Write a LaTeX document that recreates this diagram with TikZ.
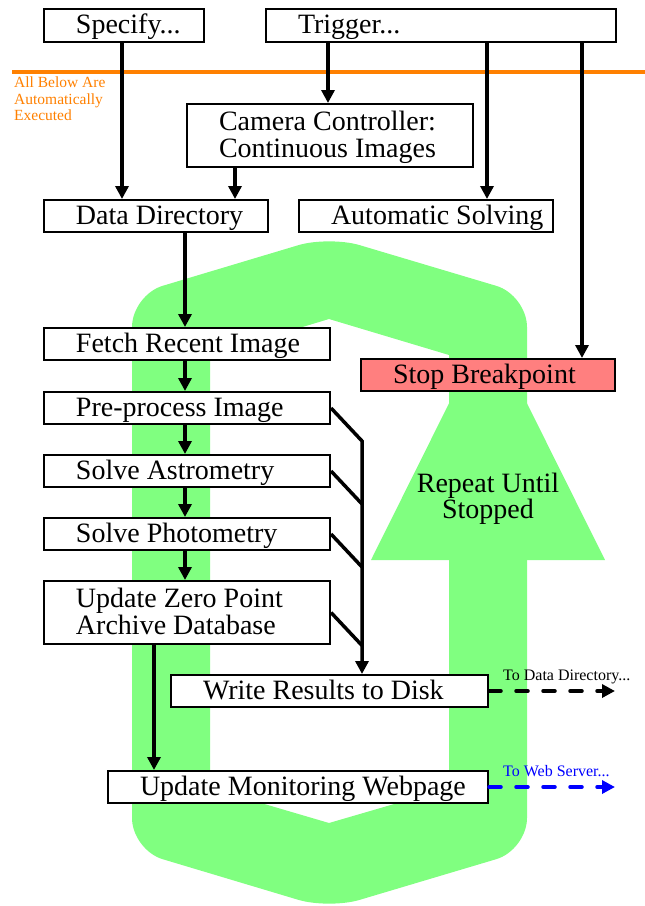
\documentclass[tikz,border=0pt]{standalone}
\usepackage{fontspec}
\setmainfont{Liberation Serif}
\usetikzlibrary{arrows.meta}
\definecolor{loopgreen}{RGB}{128,255,128}
\definecolor{stopred}{RGB}{255,127,127}
\definecolor{autoorange}{RGB}{255,128,0}
\newcommand\bx[2]{\parbox{#1pt}{\raggedright\leftskip=32pt\relax\rule{0pt}{24pt}#2\rule[-8pt]{0pt}{8pt}}}
\begin{document}
\begin{tikzpicture}[x=1pt,y=-1pt,
  box/.style={draw, line width=2pt, fill=white, anchor=north west, inner sep=0pt,
              font=\fontsize{28}{27}\selectfont},
  arr/.style={line width=3.5pt, -{Triangle[length=13pt,width=13pt]}},
  merge/.style={line width=3.5pt},
  dasharr/.style={line width=3.5pt, line cap=round, dash pattern=on 12pt off 15pt,
                  -{Triangle[length=13pt,width=13pt]}},
  small/.style={inner sep=0pt, font=\fontsize{16}{16}\selectfont}]
\clip (0,0) rectangle (645,906);
\useasboundingbox (0,0) rectangle (645,906);

% green loop
\fill[loopgreen, even odd rule]
  [rounded corners=32pt] (132,295) -- (329,236) -- (527,295) -- (527,850) -- (329,909) -- (132,850) -- cycle
  [sharp corners] (210,355) -- (329,319) -- (449,355) -- (449,788) -- (329,823) -- (210,788) -- cycle;
\fill[loopgreen] (488,325) -- (605,560) -- (371,560) -- cycle;
\node[align=center, inner sep=0pt, font=\fontsize{28}{26}\selectfont] (rep) at (488,499) {Repeat Until\\Stopped};

% orange separator
\draw[autoorange, line width=4pt] (12,72) -- (645,72);
\node[anchor=north west, align=left, inner sep=0pt, text=autoorange,
      font=\fontsize{15.5}{16.5}\selectfont] (auto note) at (14,77)
      {All Below Are\\Automatically\\Executed};

% boxes
\node[box, minimum height=33] (spec) at (43,8) {\bx{160}{Specify...}};
\node[box, minimum height=33] (trig) at (265,8) {\bx{350}{Trigger...}};
\node[box, minimum height=63] (cam) at (186,103) {\bx{286}{Camera Controller:\\Continuous Images}};
\node[box, minimum height=32] (dd) at (43,199) {\bx{224}{Data Directory}};
\node[box, minimum height=32] (solve) at (298,199) {\bx{254}{Automatic Solving}};
\node[box, minimum height=31] (fetch) at (43,327) {\bx{286}{Fetch Recent Image}};
\node[box, fill=stopred, minimum height=32] (stop) at (360,358) {\bx{254}{Stop Breakpoint}};
\node[box, minimum height=31] (pre) at (43,391) {\bx{286}{Pre-process Image}};
\node[box, minimum height=31] (astro) at (43,454) {\bx{286}{Solve Astrometry}};
\node[box, minimum height=31] (photo) at (43,517) {\bx{286}{Solve Photometry}};
\node[box, minimum height=63] (zp) at (43,580) {\bx{286}{Update Zero Point\\Archive Database}};
\node[box, minimum height=32] (write) at (170,674) {\bx{317}{Write Results to Disk}};
\node[box, minimum height=32] (mon) at (107,770) {\bx{380}{Update Monitoring Webpage}};

% column coordinates
\coordinate (xs) at (122,0);
\coordinate (xt) at (328,0);
\coordinate (xc) at (235,0);
\coordinate (xa) at (487,0);
\coordinate (xb) at (582,0);
\coordinate (xf) at (185,0);
\coordinate (xz) at (154,0);
\coordinate (xe) at (615,0);

% connectors
\draw[arr] (spec.south -| xs) -- (dd.north -| xs);
\draw[arr] (trig.south -| xt) -- (cam.north -| xt);
\draw[arr] (cam.south -| xc) -- (dd.north -| xc);
\draw[arr] (trig.south -| xa) -- (solve.north -| xa);
\draw[arr] (trig.south -| xb) -- (stop.north -| xb);
\draw[arr] (dd.south -| xf) -- (fetch.north -| xf);
\draw[arr] (fetch.south -| xf) -- (pre.north -| xf);
\draw[arr] (pre.south -| xf) -- (astro.north -| xf);
\draw[arr] (astro.south -| xf) -- (photo.north -| xf);
\draw[arr] (photo.south -| xf) -- (zp.north -| xf);
\draw[arr] (zp.south -| xz) -- (mon.north -| xz);

\draw[arr, line join=miter] (pre.east) -- ++(31,33) coordinate (m1) -- (write.north -| m1);
\draw[merge] (astro.east) -- ++(31,33);
\draw[merge] (photo.east) -- ++(31,33);
\draw[merge] (zp.east) -- ++(31,33);

\draw[dasharr] (write.east) -- (write.east -| xe);
\draw[dasharr, blue] (mon.east) -- (mon.east -| xe);
\node[small, anchor=base west] (lbl1) at (503,680) {To Data Directory...};
\node[small, anchor=base west, text=blue] (lbl2) at (503,776) {To Web Server...};
\end{tikzpicture}
\end{document}
